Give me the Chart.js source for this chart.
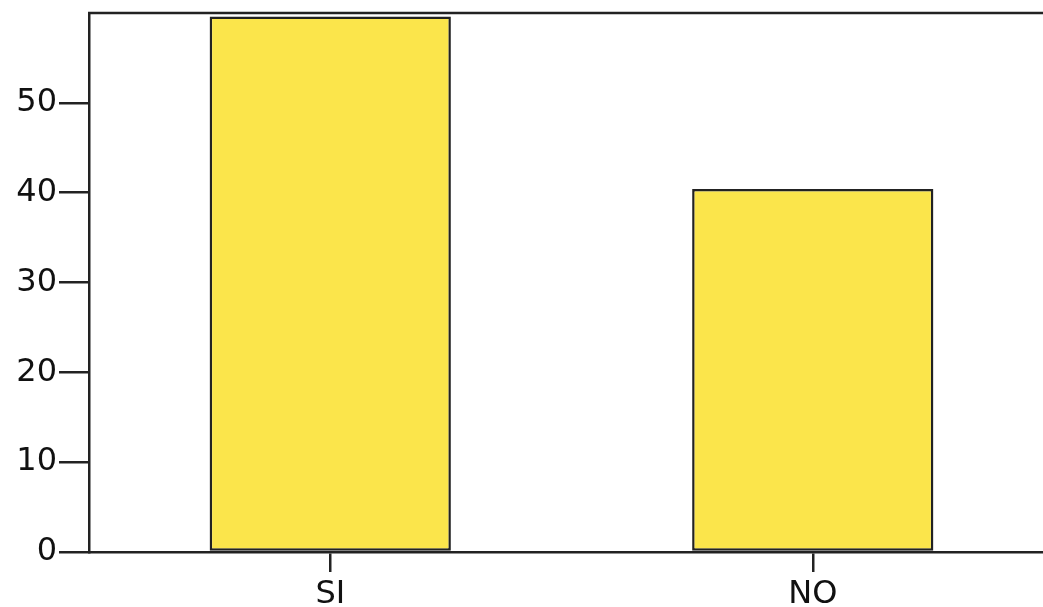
<!DOCTYPE html>
<html>
<head>
<meta charset="utf-8">
<script src="https://cdn.jsdelivr.net/npm/chart.js@4.4.1/dist/chart.umd.min.js"></script>
<style>
  html, body { margin: 0; padding: 0; background: #fff; overflow: hidden; }
  #wrap { position: relative; width: 1054px; height: 607px; }
</style>
</head>
<body>
<div id="wrap"><canvas id="chart"></canvas></div>
<script>
// ── DATA ──
const categories = ['SI', 'NO'];
const values     = [59.6, 40.4];
const yTicks     = [0, 10, 20, 30, 40, 50];

// top frame line across the plot area
const frameLine = {
  id: 'frameLine',
  afterDraw(chart) {
    const { ctx, chartArea: a } = chart;
    ctx.save();
    ctx.strokeStyle = '#222';
    ctx.lineWidth = 2.5;
    ctx.beginPath();
    ctx.moveTo(a.left - 1, a.top);
    ctx.lineTo(a.right + 2, a.top);
    ctx.stroke();
    ctx.restore();
  }
};

const font = { family: 'DejaVu Sans', size: 32 };

new Chart(document.getElementById('chart'), {
  type: 'bar',
  data: {
    labels: categories,
    datasets: [{
      data: values,
      backgroundColor: '#fbe54b',
      borderColor: '#222',
      borderWidth: 2.5,
      borderSkipped: false,
      barPercentage: 0.5,
      categoryPercentage: 1
    }]
  },
  plugins: [frameLine],
  options: {
    responsive: true,
    maintainAspectRatio: false,
    animation: false,
    layout: { padding: { top: 13, right: 0, left: 0, bottom: 0 } },
    plugins: { legend: { display: false }, tooltip: { enabled: false } },
    scales: {
      x: {
        grid: { offset: false, drawOnChartArea: false, drawTicks: true, tickLength: 20, color: '#222', lineWidth: 2.5 },
        border: { color: '#222', width: 2.5 },
        ticks: { color: '#111', font, padding: 3 },
        afterFit(s) { s.height = 55; s.paddingLeft = 0; s.paddingRight = 0; }
      },
      y: {
        min: 0, max: 60,
        grid: { drawOnChartArea: false, drawTicks: true, tickLength: 30, color: '#222', lineWidth: 2.5 },
        border: { color: '#222', width: 2.5 },
        ticks: { color: '#111', font, padding: 2, stepSize: 10 },
        afterBuildTicks(s) { s.ticks = yTicks.map(v => ({ value: v })); },
        afterFit(s) { s.width = 89; s.paddingTop = 0; s.paddingBottom = 0; }
      }
    }
  }
});
</script>
</body>
</html>
